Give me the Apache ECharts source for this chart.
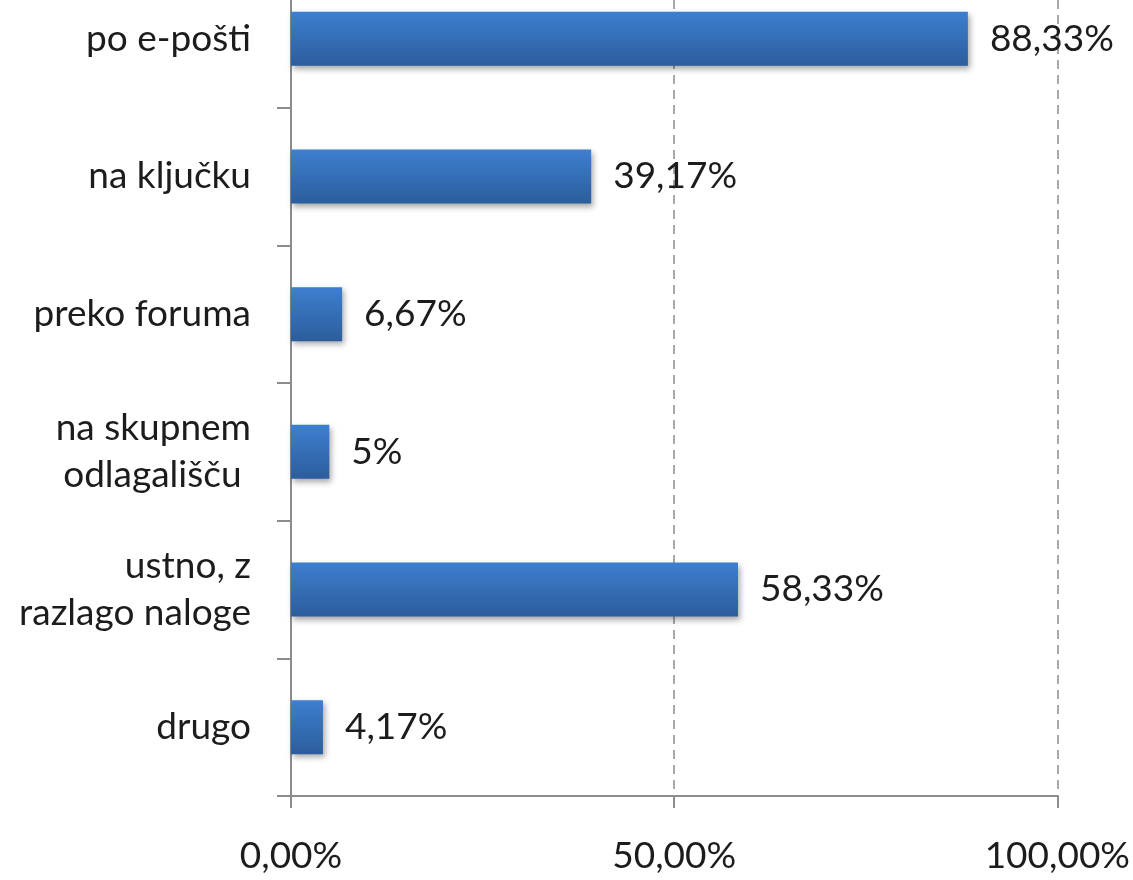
<!DOCTYPE html>
<html>
<head>
<meta charset="utf-8">
<script src="https://cdn.jsdelivr.net/npm/echarts@6/dist/echarts.min.js"></script>
<style>
  html, body { margin: 0; padding: 0; background: #fff; overflow: hidden; }
  /* vrh grafa je odrezan kot na izvirniku */
  #chart { position: absolute; left: 0; top: -30px; width: 1133px; height: 910px; }
</style>
</head>
<body>
<div id="chart"></div>
<script>
// podatki
const categories = ['po e-pošti', 'na ključku', 'preko foruma', 'na skupnem\nodlagališču ', 'ustno, z\nrazlago naloge', 'drugo']
const values = [88.33, 39.17, 6.67, 5, 58.33, 4.17]
const xTicks = { 0: '0,00%', 50: '50,00%', 100: '100,00%' }

const fontFamily = 'Lato, "Open Sans", sans-serif'
const textColor = '#1c1c1c'

const myChart = echarts.init(document.getElementById('chart'))

const option = {
  animation: false,
  grid: {
    left: 291,
    right: 74,
    top: 0,
    bottom: 84,
    containLabel: false
  },
  xAxis: {
    type: 'value',
    min: 0,
    max: 100,
    interval: 50,
    axisLine: { show: true, lineStyle: { color: '#8c8c8c', width: 2 } },
    axisTick: { show: true, length: 12, lineStyle: { color: '#8c8c8c', width: 2 } },
    axisLabel: {
      margin: 42,
      fontSize: 37,
      fontFamily: fontFamily,
      color: textColor,
      formatter: v => xTicks[v] || ''
    },
    splitLine: {
      show: true,
      lineStyle: { color: '#8c8c8c', type: [9, 6], width: 1.5 }
    }
  },
  yAxis: {
    type: 'category',
    inverse: true,
    data: categories,
    axisLine: { show: true, lineStyle: { color: '#8c8c8c', width: 2 } },
    axisTick: { show: true, length: 14, lineStyle: { color: '#8c8c8c', width: 2 } },
    axisLabel: {
      margin: 40,
      fontSize: 37,
      lineHeight: 47,
      fontFamily: fontFamily,
      color: textColor,
      align: 'right'
    },
    splitLine: { show: false }
  },
  series: [{
    type: 'bar',
    data: values,
    barWidth: 54,
    itemStyle: {
      color: {
        type: 'linear',
        x: 0, y: 0, x2: 0, y2: 1,
        colorStops: [
          { offset: 0, color: '#3d7fd0' },
          { offset: 1, color: '#2c5d9c' }
        ]
      },
      shadowColor: 'rgba(0,0,0,0.35)',
      shadowBlur: 6,
      shadowOffsetX: 2,
      shadowOffsetY: 3
    },
    label: {
      show: true,
      position: 'right',
      distance: 22,
      fontSize: 37,
      fontFamily: fontFamily,
      color: textColor,
      formatter: p => String(p.value).replace('.', ',') + '%'
    }
  }]
}

myChart.setOption(option)
</script>
</body>
</html>
